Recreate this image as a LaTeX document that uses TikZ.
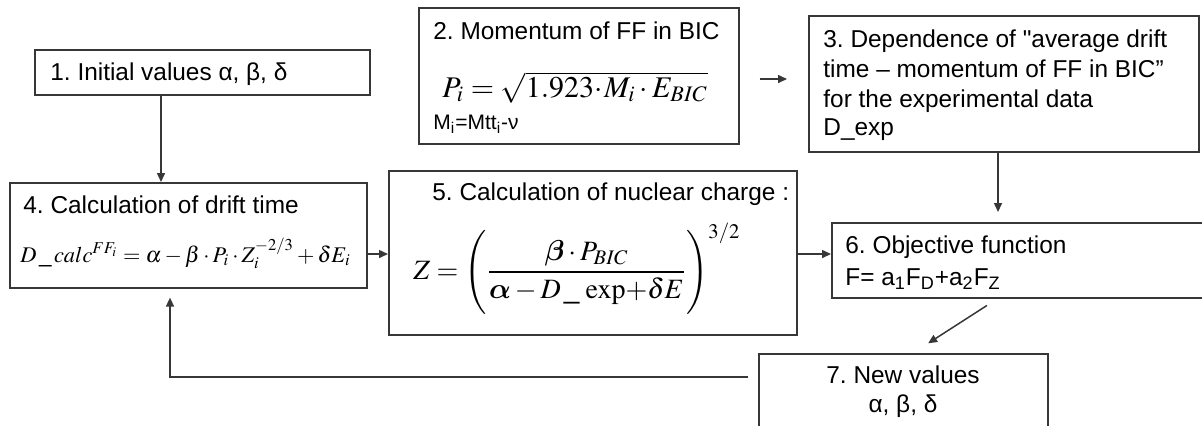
\documentclass[tikz,border=0pt]{standalone}
\usepackage{amsmath,bm}
\usepackage{mathptmx}
\usepackage[no-math]{fontspec}
\setmainfont{Liberation Sans}
\usetikzlibrary{arrows.meta,calc}
\definecolor{framegray}{RGB}{55,55,55}
\tikzset{
  box/.style={draw=framegray,line width=0.8pt,inner sep=0pt,anchor=north west},
  arr/.style={draw=framegray,line width=0.75pt,-{Triangle[length=4.5pt,width=4pt]}},
  lbl/.style={inner sep=0pt,anchor=base west,font=\fontsize{12.2}{14.6}\selectfont},
}
\frenchspacing

\begin{document}
\begin{tikzpicture}[x=0.5pt,y=-0.5pt]
  \clip (0,0) rectangle (1202,425);
  % boxes
  \node[box,minimum width=167.5pt,minimum height=22.5pt] (b1) at (34,49) {};
  \node[box,minimum width=160pt,minimum height=68pt] (b2) at (418,7) {};
  \node[box,minimum width=195pt,minimum height=68pt] (b3) at (808,15) {};
  \node[box,minimum width=178.5pt,minimum height=52.5pt] (b4) at (9,182) {};
  \node[box,minimum width=204pt,minimum height=82pt] (b5) at (388,170) {};
  \node[box,minimum width=210pt,minimum height=37.5pt] (b6) at (831,222) {};
  \node[box,minimum width=144.5pt,minimum height=50pt] (b7) at (758,353) {};
  % texts
  \node[lbl] (t1) at (50,80) {1. Initial values α, β, δ};
  \node[lbl] (t2a) at (433,39) {2. Momentum of FF in BIC};
  \node[lbl,font=\fontsize{15}{18}\selectfont] (t2b) at (442,97)
    {$P_i = \smash[b]{\sqrt{1.923\!\cdot\! M_i \cdot E_{BIC}}}$};
  \node[lbl,font=\fontsize{10.5}{12}\selectfont] (t2c) at (433,129)
    {M\textsubscript{i}=Mtt\textsubscript{i}-ν};
  \node[lbl] (t3a) at (823,47) {3. Dependence of \textquotedbl average drift};
  \node[lbl] (t3b) at (823,77) {time – momentum of FF in BIC”};
  \node[lbl] (t3c) at (823,107) {for the experimental data};
  \node[lbl] (t3d) at (823,135) {D\_exp};
  \node[lbl] (t4a) at (23,213) {4. Calculation of drift time};
  \node[lbl,font=\fontsize{11.2}{13}\selectfont] (t4b) at (20,262)
    {$D\,\_\,calc^{FF_i} = \alpha - \beta\cdot P_i\cdot Z_i^{-2/3} + \delta E_i$};
  \node[lbl] (t5a) at (432,200) {5. Calculation of nuclear charge :};
  \node[lbl,font=\fontsize{14}{17}\selectfont] (t5b) at (413,279)
    {$Z = \smash{\Biggl(}\dfrac{\bm{\beta}\cdot P_{BIC}}{\bm{\alpha} - D\,\_\,\exp\!+ \delta E}\smash{\Biggr)^{3/2}}$};
  \node[lbl] (t6a) at (845,253) {6. Objective function};
  \node[lbl] (t6b) at (845,285)
    {F= a\textsubscript{1}F\textsubscript{D}+a\textsubscript{2}F\textsubscript{Z}};
  \node[lbl,anchor=base] (t7a) at (903,383) {7. New values};
  \node[lbl,anchor=base] (t7b) at (903,412) {α, β, δ};
  % connectors
  \draw[arr] (161,0 |- b1.south) -- (161,0 |- b4.north);
  \draw[arr,shorten <=10pt,shorten >=10.5pt] (b2.east |- 0,79) -- (b3.west |- 0,79);
  \draw[arr] (b4.east |- 0,254) -- (b5.west |- 0,254);
  \draw[arr] (b5.east |- 0,254) -- (b6.west |- 0,254);
  \draw[arr,shorten >=5pt] (998,0 |- b3.south) -- (998,0 |- b6.north);
  \draw[arr,shorten <=6.3pt,shorten >=9pt] (997.6,0 |- b6.south) -- (913,0 |- b7.north);
  \draw[arr,shorten <=5pt,shorten >=4.5pt] (b7.west |- 0,377) -| (170,0 |- b4.south);
\end{tikzpicture}
\end{document}
